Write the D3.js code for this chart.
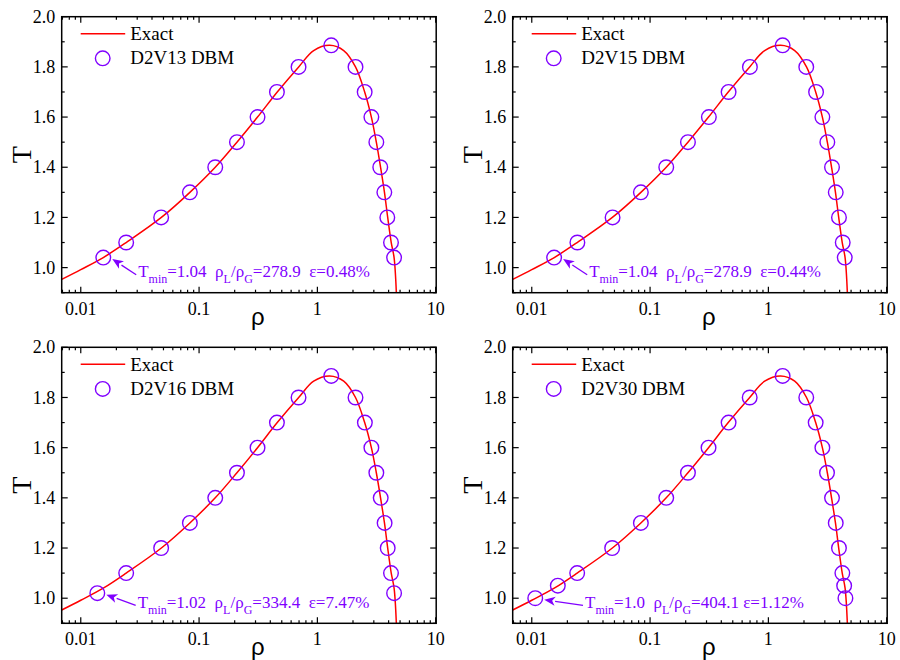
<!DOCTYPE html>
<html>
<head>
<meta charset="utf-8">
<script src="https://cdn.jsdelivr.net/npm/d3@7"></script>
<style>
  html, body { margin: 0; padding: 0; background: #fff; }
  svg { display: block; }
  text { white-space: pre; }
</style>
</head>
<body>
<svg id="chart" width="900" height="660"></svg>
<script>
// Coexistence curve (exact solution): density and temperature
const exactRho = [0.0069, 0.01, 0.0155, 0.0242, 0.048, 0.0836, 0.137, 0.209, 0.312, 0.458, 0.695, 0.93, 1.27, 1.67, 2.10, 2.51, 2.86, 3.15, 3.42, 3.69, 3.93, 4.21, 4.45, 4.65];
const exactT   = [0.953, 0.992, 1.04, 1.10, 1.20, 1.30, 1.40, 1.50, 1.60, 1.70, 1.80, 1.865, 1.886, 1.865, 1.80, 1.70, 1.60, 1.50, 1.40, 1.30, 1.20, 1.10, 1.04, 0.90];

// DBM results for each velocity model
const d2v13Rho = [0.0155, 0.0242, 0.0478, 0.0836, 0.137, 0.209, 0.312, 0.455, 0.693, 1.31, 2.10, 2.51, 2.86, 3.15, 3.40, 3.68, 3.90, 4.19, 4.45];
const d2v13T   = [1.04, 1.1, 1.2, 1.3, 1.4, 1.5, 1.6, 1.7, 1.8, 1.886, 1.8, 1.7, 1.6, 1.5, 1.4, 1.3, 1.2, 1.1, 1.04];

const d2v15Rho = [0.01545, 0.0243, 0.0482, 0.0836, 0.137, 0.209, 0.314, 0.461, 0.698, 1.32, 2.09, 2.53, 2.86, 3.15, 3.45, 3.71, 3.95, 4.25, 4.42];
const d2v15T   = [1.04, 1.1, 1.2, 1.3, 1.4, 1.5, 1.6, 1.7, 1.8, 1.886, 1.8, 1.7, 1.6, 1.5, 1.4, 1.3, 1.2, 1.1, 1.04];

const d2v16Rho = [0.0138, 0.0242, 0.0478, 0.0836, 0.137, 0.209, 0.312, 0.455, 0.693, 1.31, 2.10, 2.52, 2.86, 3.15, 3.43, 3.70, 3.93, 4.19, 4.45];
const d2v16T   = [1.02, 1.1, 1.2, 1.3, 1.4, 1.5, 1.6, 1.7, 1.8, 1.886, 1.8, 1.7, 1.6, 1.5, 1.4, 1.3, 1.2, 1.1, 1.02];

const d2v30Rho = [0.0107, 0.0166, 0.0242, 0.0478, 0.0836, 0.137, 0.209, 0.312, 0.461, 0.695, 1.32, 2.09, 2.51, 2.86, 3.13, 3.45, 3.71, 3.95, 4.22, 4.37, 4.48];
const d2v30T   = [1.0, 1.05, 1.1, 1.2, 1.3, 1.4, 1.5, 1.6, 1.7, 1.8, 1.886, 1.8, 1.7, 1.6, 1.5, 1.4, 1.3, 1.2, 1.1, 1.05, 1.0];

// Legend names and annotation values
const modelNames  = ["D2V13 DBM", "D2V15 DBM", "D2V16 DBM", "D2V30 DBM"];
const tminLabels  = ["1.04", "1.04", "1.02", "1.0"];
const ratioLabels = ["278.9", "278.9", "334.4", "404.1"];
const errLabels   = ["0.48%", "0.44%", "7.47%", "1.12%"];
const ratioGaps   = ["  ", "  ", "  ", " "];

// Axis ticks
const xMajorTicks = [0.01, 0.1, 1, 10];
const xTickLabels = ["0.01", "0.1", "1", "10"];
const yMajorTicks = [1.0, 1.2, 1.4, 1.6, 1.8, 2.0];
const yMinorTicks = [0.9, 1.1, 1.3, 1.5, 1.7, 1.9];

const seriesRho = [d2v13Rho, d2v15Rho, d2v16Rho, d2v30Rho];
const seriesT   = [d2v13T, d2v15T, d2v16T, d2v30T];

// Layout of the 2x2 grid
const W = 374.5, H = 276;
const panelBoxes = [
  { left: 61.7,  top: 16.7,  noteDx: 76.5 },
  { left: 512.7, top: 16.7,  noteDx: 76.5 },
  { left: 61.7,  top: 347.3, noteDx: 76.0 },
  { left: 512.7, top: 347.3, noteDx: 72.3 }
];

const RED = "#ff0000";
const VIOLET = "#8000ff";
const SERIF = "'Liberation Serif', 'Times New Roman', serif";
const SANS = "'Liberation Sans', Arial, sans-serif";

const svg = d3.select("#chart");

const x = d3.scaleLog().domain([0.0069, 10.1]).range([0, W]);
const y = d3.scaleLinear().domain([0.9, 2.0]).range([H, 0]);

// minor ticks on the log axis: 2..9 times each decade, inside the domain
const xMinorTicks = [];
for (let e = -3; e <= 1; e++) {
  for (let m = 2; m <= 9; m++) {
    const v = m * Math.pow(10, e);
    if (v >= x.domain()[0] && v <= x.domain()[1]) xMinorTicks.push(v);
  }
}

const exactPts = exactRho.map((r, i) => [r, exactT[i]]);
const line = d3.line()
  .x(d => x(d[0]))
  .y(d => y(d[1]))
  .curve(d3.curveCatmullRom.alpha(0.5));

panelBoxes.forEach((box, pi) => {
  const g = svg.append("g").attr("transform", `translate(${box.left},${box.top})`);

  const clipId = "clip" + pi;
  g.append("clipPath").attr("id", clipId)
    .append("rect").attr("x", 0).attr("y", 0).attr("width", W).attr("height", H);

  // inward ticks on all four sides
  const major = 6, minor = 3;
  const tickG = g.append("g").attr("stroke", "#000").attr("stroke-width", 1.2);
  const addX = (vals, len) => vals.forEach(v => {
    const px = x(v);
    tickG.append("line").attr("x1", px).attr("x2", px).attr("y1", H).attr("y2", H - len);
    tickG.append("line").attr("x1", px).attr("x2", px).attr("y1", 0).attr("y2", len);
  });
  const addY = (vals, len) => vals.forEach(v => {
    const py = y(v);
    tickG.append("line").attr("x1", 0).attr("x2", len).attr("y1", py).attr("y2", py);
    tickG.append("line").attr("x1", W).attr("x2", W - len).attr("y1", py).attr("y2", py);
  });
  addX(xMajorTicks, major);
  addX(xMinorTicks, minor);
  addY(yMajorTicks, major);
  addY(yMinorTicks, minor);

  // exact curve
  g.append("path")
    .datum(exactPts)
    .attr("clip-path", `url(#${clipId})`)
    .attr("fill", "none")
    .attr("stroke", RED)
    .attr("stroke-width", 1.5)
    .attr("d", line);

  // DBM circles
  const pts = seriesRho[pi].map((r, i) => [r, seriesT[pi][i]]);
  g.append("g").selectAll("circle")
    .data(pts).join("circle")
    .attr("cx", d => x(d[0]))
    .attr("cy", d => y(d[1]))
    .attr("r", 7.3)
    .attr("fill", "none")
    .attr("stroke", VIOLET)
    .attr("stroke-width", 1.4);

  // frame
  g.append("rect").attr("x", 0).attr("y", 0).attr("width", W).attr("height", H)
    .attr("fill", "none").attr("stroke", "#000").attr("stroke-width", 1.5);

  // tick labels
  xMajorTicks.forEach((v, i) => {
    g.append("text").attr("x", x(v)).attr("y", H + 22)
      .attr("text-anchor", "middle")
      .attr("font-family", SERIF).attr("font-size", 18)
      .text(xTickLabels[i]);
  });
  yMajorTicks.forEach(v => {
    g.append("text").attr("x", -6.5).attr("y", y(v)).attr("dy", "0.34em")
      .attr("text-anchor", "end")
      .attr("font-family", SERIF).attr("font-size", 18)
      .text(d3.format(".1f")(v));
  });

  // axis titles
  g.append("text").attr("x", W / 2 + 9).attr("y", H + 32)
    .attr("text-anchor", "middle")
    .attr("font-family", SANS).attr("font-size", 24)
    .text("ρ");
  g.append("text")
    .attr("transform", `translate(${-31},${H / 2}) rotate(-90)`)
    .attr("text-anchor", "middle")
    .attr("font-family", SERIF).attr("font-size", 28)
    .text("T");

  // legend
  g.append("line").attr("x1", 19).attr("x2", 63.5).attr("y1", 17).attr("y2", 17)
    .attr("stroke", RED).attr("stroke-width", 1.5);
  g.append("text").attr("x", 68.5).attr("y", 23.5)
    .attr("font-family", SERIF).attr("font-size", 19)
    .text("Exact");
  g.append("circle").attr("cx", 41).attr("cy", 41.6).attr("r", 7.3)
    .attr("fill", "none").attr("stroke", VIOLET).attr("stroke-width", 1.4);
  g.append("text").attr("x", 68.5).attr("y", 47.7)
    .attr("font-family", SERIF).attr("font-size", 19)
    .text(modelNames[pi]);

  // annotation of the lowest-temperature point
  const nx = box.noteDx, ny = 260.5;
  const note = g.append("text").attr("x", nx).attr("y", ny)
    .attr("font-family", SERIF).attr("font-size", 17).attr("fill", VIOLET);
  note.append("tspan").text("T");
  note.append("tspan").attr("font-size", 12).attr("dy", 6).text("min");
  note.append("tspan").attr("dy", -6).text("=" + tminLabels[pi] + "  ρ");
  note.append("tspan").attr("font-size", 12).attr("dy", 6).text("L");
  note.append("tspan").attr("dy", -6).text("/ρ");
  note.append("tspan").attr("font-size", 12).attr("dy", 6).text("G");
  note.append("tspan").attr("dy", -6).text("=" + ratioLabels[pi] + ratioGaps[pi] + "ε=" + errLabels[pi]);

  // arrow from the text to the marker
  const tx = x(seriesRho[pi][0]) + 9, ty = y(seriesT[pi][0]) + 1.5;
  const sx = nx - 2, sy = ny - 2.5;
  const ang = Math.atan2(ty - sy, tx - sx);
  const headLen = 11, headHalf = 4.5;
  const bx = tx - headLen * Math.cos(ang), by = ty - headLen * Math.sin(ang);
  g.append("line").attr("x1", sx).attr("y1", sy).attr("x2", bx).attr("y2", by)
    .attr("stroke", VIOLET).attr("stroke-width", 1.3);
  const px = -Math.sin(ang), py = Math.cos(ang);
  g.append("path")
    .attr("d", `M${tx},${ty}L${bx + headHalf * px},${by + headHalf * py}L${bx + 3 * Math.cos(ang)},${by + 3 * Math.sin(ang)}L${bx - headHalf * px},${by - headHalf * py}Z`)
    .attr("fill", VIOLET);
});
</script>
</body>
</html>
